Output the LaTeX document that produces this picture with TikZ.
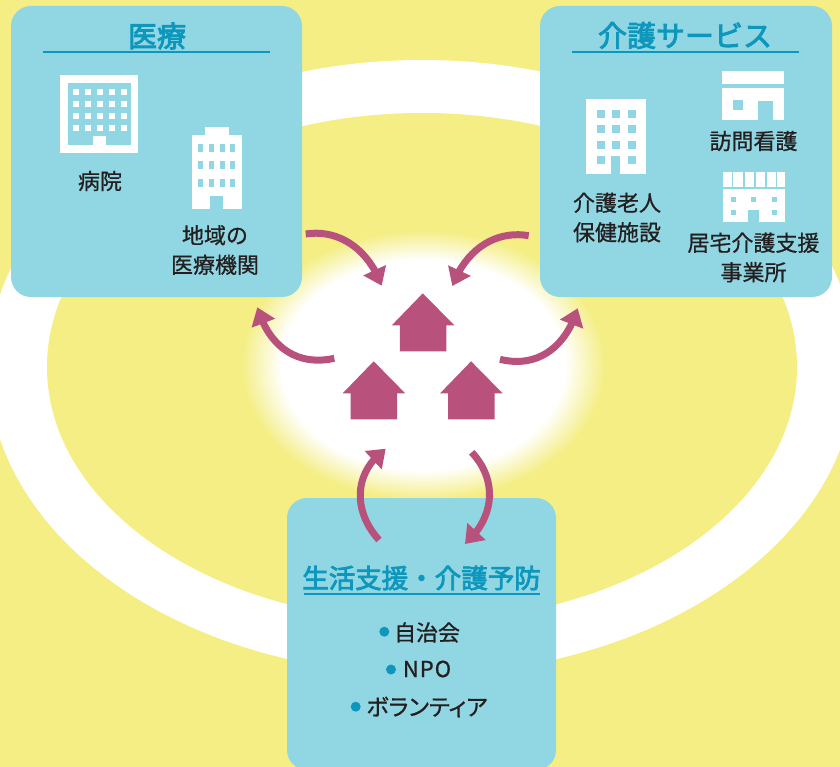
\documentclass[tikz,border=0pt]{standalone}
\usepackage{fontspec}
\usetikzlibrary{arrows.meta,bending}
\setmainfont[FakeBold=0.8]{Noto Sans CJK JP}
\newfontfamily\jptitle[FakeBold=3]{Noto Sans CJK JP}
\newfontfamily\jppalt[FakeBold=0.8,RawFeature={+palt}]{Noto Sans CJK JP}
\definecolor{bgy}{HTML}{F4EE85}
\definecolor{boxb}{HTML}{91D7E3}
\definecolor{ttl}{HTML}{0E97BC}
\definecolor{ink}{HTML}{231F20}
\definecolor{mag}{HTML}{B8527D}
\pgfdeclareradialshading{glowshade}{\pgfpoint{0bp}{0bp}}{color(0bp)=(white);color(19.5bp)=(white);color(25bp)=(bgy);color(50bp)=(bgy)}
\tikzset{
  panel/.style={fill=boxb,draw=none,rounded corners=20pt,inner sep=0pt,outer sep=0pt},
  ttltext/.style={font=\jptitle\fontsize{29}{32}\selectfont,text=ttl,inner sep=0pt},
  lab/.style={font=\fontsize{22}{29.5}\selectfont,text=ink,inner sep=0pt,align=center},
  rulel/.style={draw=ttl,line width=1.6pt},
  dotm/.style={fill=ttl,draw=none},
  wicon/.style={fill=white,draw=none},
  bicon/.style={fill=boxb,draw=none},
  house/.style={fill=mag,draw=none},
  carrow/.style={draw=mag,line width=7pt,-{Triangle[length=17pt,width=24pt,flex]}}
}
\newcommand{\homeicon}[1]{\fill[house] #1 ++(0,-58) -- ++(31.5,32) -- ++(-8,0) -- ++(0,26) -- ++(-46.5,0) -- ++(0,-26) -- ++(-8,0) -- cycle;}
\begin{document}
\begin{tikzpicture}[x=1pt,y=-1pt]
\useasboundingbox (0,0) rectangle (840,767);
\clip (0,0) rectangle (840,767);
\fill[bgy] (0,0) rectangle (840,767);
% ring
\fill[white] (422,367) ellipse [x radius=434pt,y radius=307pt];
\fill[bgy] (422,367) ellipse [x radius=375pt,y radius=254pt];
% glow
\shade[shading=glowshade] (423,365) ellipse [x radius=182pt,y radius=135pt];
% panels
\node[panel,minimum width=291pt,minimum height=291pt] (med) at (156.5,151.5) {};
\node[panel,minimum width=292pt,minimum height=291pt] (care) at (686,151.5) {};
\node[panel,minimum width=269pt,minimum height=272pt] (life) at (421.5,634) {};
% titles
\node[ttltext] (tmed) at (157,36) {医療};
\coordinate (ml) at (43,52); \coordinate (mr) at (270,52);
\draw[rulel] (ml) -- (mr);
\node[ttltext] (tcare) at (685,35.5) {介護サービス};
\coordinate (cl) at (571.5,52); \coordinate (cr) at (799,52);
\draw[rulel] (cl) -- (cr);
\node[ttltext,font=\jptitle\fontsize{26.5}{30}\selectfont] (tlife) at (421.5,578) {生活支援・介護予防};
\coordinate (ll) at (303.5,594); \coordinate (lr) at (540,594);
\draw[rulel] (ll) -- (lr);
% hospital icon
\fill[wicon] (60,75) rectangle (138,153);
\fill[bicon] (68,83) rectangle (130.5,145.5);
\foreach \x in {73,85,97,109,121} \foreach \y in {89,101,113,125} \fill[wicon] (\x,\y) rectangle ++(6,6);
\fill[wicon] (92.5,136) rectangle (106,145.5);
% clinic icon
\fill[wicon] (205,127.5) rectangle (229,136);
\fill[wicon] (192,135) rectangle (241.5,209);
\foreach \x in {198,209,219.5,230} \foreach \y in {144,161,179} \fill[bicon] (\x,\y) rectangle ++(5,8);
\fill[bicon] (210,196) rectangle (223,209);
% care facility icon
\fill[wicon] (586.3,99) rectangle (645.5,174);
\foreach \x in {596.5,612,627.5} \foreach \y in {110,125.5,141} \fill[bicon] (\x,\y) rectangle ++(8,7.7);
\fill[bicon] (596.5,156) rectangle ++(8,8);
\fill[bicon] (627.5,156) rectangle ++(8,8);
\fill[bicon] (610.7,156) rectangle (620.3,174);
% home-visit nursing icon
\fill[wicon] (722,71) rectangle (784.3,83.7);
\fill[wicon] (722,87.7) rectangle (784.3,120);
\fill[bicon] (733,100) rectangle (743,110);
\fill[bicon] (758.3,100.7) rectangle (772.7,120);
% home-care support icon
\foreach \a/\b in {723/731.5,733/743,744.5/754,755.5/765,766.5/775.5,777/785} \fill[wicon] (\a,172) rectangle (\b,186.7);
\fill[wicon] (723,189.3) rectangle (785,221.7);
\foreach \x in {731,751.3,772} \fill[bicon] (\x,196.7) rectangle ++(5,5);
\foreach \x in {731,772} \fill[bicon] (\x,210) rectangle ++(5,5);
\fill[bicon] (748.3,210) rectangle (759.3,221.7);
% labels
\node[lab] (l1) at (100,181) {病院};
\node[lab] (l2) at (215,250) {地域の\\医療機関};
\node[lab] (l3) at (753.5,141) {訪問看護};
\node[lab] (l4) at (617,217.5) {介護老人\\保健施設};
\node[lab] (l5) at (753.5,257.5) {居宅介護支援\\事業所};
\node[lab] (l6) at (427,632.5) {自治会};
\node[lab] (l7) at (427,669) {N\kern1pt P\kern1pt O};
\node[lab,font=\jppalt\fontsize{23}{29}\selectfont] (l8) at (427,707) {ボランティア};
\fill[dotm] (384.3,631.7) circle [radius=5pt];
\fill[dotm] (391,669.5) circle [radius=5pt];
\fill[dotm] (355.7,706.7) circle [radius=5pt];
% houses
\homeicon{(422.8,351.3)}
\homeicon{(373.7,419.3)}
\homeicon{(471.1,419.3)}
% arrows
\coordinate (a1s) at (305.7,234); \coordinate (a1e) at (381.7,285.7);
\coordinate (a2s) at (528.7,235.7); \coordinate (a2e) at (452.3,286);
\coordinate (a3s) at (334.3,358.3); \coordinate (a3e) at (257.3,307.3);
\coordinate (a4s) at (500,359.3); \coordinate (a4e) at (577.7,308.3);
\coordinate (a5s) at (379,540); \coordinate (a5e) at (385.7,448.7);
\coordinate (a6s) at (471.7,452.3); \coordinate (a6e) at (465,544);
\draw[carrow] (a1s) .. controls (338,229) and (368,248) .. (a1e);
\draw[carrow] (a2s) .. controls (496,230) and (466,249) .. (a2e);
\draw[carrow] (a3s) .. controls (300,366) and (270,350) .. (a3e);
\draw[carrow] (a4s) .. controls (535,368) and (565,350) .. (a4e);
\draw[carrow] (a5s) .. controls (352,510) and (354,472) .. (a5e);
\draw[carrow] (a6s) .. controls (496,478) and (497,515) .. (a6e);
\end{tikzpicture}
\end{document}
